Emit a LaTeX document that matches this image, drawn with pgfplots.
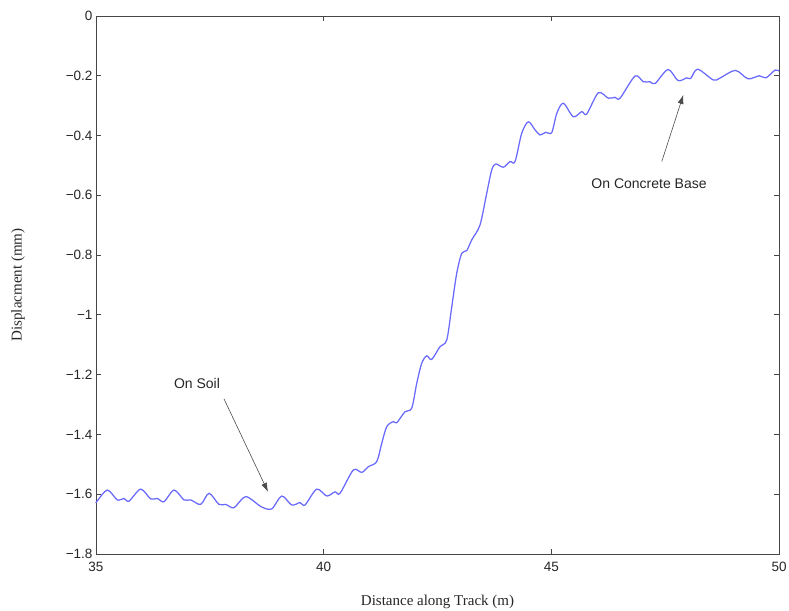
\documentclass[border=0pt]{standalone}
\usepackage{fontspec}
\setmainfont{Liberation Serif}
\newfontfamily\helv{Liberation Sans}
\usepackage{pgfplots}
\pgfplotsset{compat=1.18}
\usetikzlibrary{arrows.meta}

\definecolor{curve}{RGB}{105,105,252}
\definecolor{axgray}{RGB}{70,70,70}

\pgfplotstableread{
x y
35.000 -1.628
35.015 -1.625
35.248 -1.586
35.468 -1.619
35.615 -1.614
35.725 -1.623
35.982 -1.583
36.201 -1.616
36.346 -1.614
36.494 -1.625
36.713 -1.586
36.933 -1.619
37.080 -1.619
37.300 -1.634
37.482 -1.597
37.701 -1.634
37.849 -1.634
38.031 -1.645
38.288 -1.608
38.630 -1.642
38.859 -1.649
39.079 -1.606
39.298 -1.636
39.481 -1.628
39.590 -1.636
39.847 -1.583
40.067 -1.606
40.249 -1.592
40.359 -1.597
40.651 -1.519
40.836 -1.527
40.981 -1.508
41.165 -1.491
41.275 -1.430
41.385 -1.374
41.530 -1.357
41.604 -1.361
41.787 -1.324
41.934 -1.312
42.044 -1.229
42.153 -1.162
42.263 -1.137
42.373 -1.149
42.556 -1.106
42.703 -1.084
42.813 -0.973
42.922 -0.861
43.032 -0.794
43.142 -0.785
43.252 -0.749
43.434 -0.699
43.581 -0.593
43.691 -0.515
43.779 -0.495
43.946 -0.506
44.093 -0.487
44.203 -0.487
44.350 -0.392
44.495 -0.354
44.642 -0.381
44.752 -0.398
44.877 -0.389
45.009 -0.390
45.119 -0.326
45.264 -0.292
45.483 -0.337
45.668 -0.320
45.777 -0.328
46.032 -0.257
46.252 -0.275
46.399 -0.272
46.509 -0.275
46.838 -0.201
47.021 -0.220
47.168 -0.220
47.278 -0.226
47.563 -0.179
47.783 -0.216
47.974 -0.207
48.060 -0.209
48.213 -0.178
48.558 -0.214
48.700 -0.208
49.042 -0.182
49.317 -0.210
49.569 -0.200
49.713 -0.207
49.913 -0.181
50.000 -0.184
}\disp

\begin{document}
\begin{tikzpicture}
\useasboundingbox (-96pt,-56pt) rectangle (693pt,554pt);
\begin{axis}[
  width=683pt, height=538pt, scale only axis,
  at={(0,0)}, anchor=south west,
  xmin=35, xmax=50, ymin=-1.8, ymax=0,
  xtick={35,40,45,50},
  xticklabels={35,40,45,50},
  ytick={-1.8,-1.6,-1.4,-1.2,-1,-0.8,-0.6,-0.4,-0.2,0},
  yticklabels={−1.8,−1.6,−1.4,−1.2,−1,−0.8,−0.6,−0.4,−0.2,0},
  tick align=inside, major tick length=5pt,
  axis line style={axgray, line width=0.8pt},
  every tick/.style={axgray, line width=0.8pt},
  ticklabel style={font=\helv\fontsize{13.5}{15}\selectfont, text=black!85},
  xticklabel style={yshift=-5pt},
  xlabel={Distance along Track (m)},
  ylabel={Displacment (mm)},
  every axis x label/.style={at={(axis description cs:0.5,0)}, anchor=center, yshift=-48pt},
  every axis y label/.style={at={(axis description cs:0,0.5)}, anchor=center, rotate=90, yshift=78pt},
  label style={font=\fontsize{15}{17}\selectfont, text=black!85},
  clip=false,
]
\addplot[curve, line width=1.25pt, smooth, tension=0.5] table[x=x, y=y] {\disp};

\draw[-{Latex[length=9pt,width=6pt]}, black!70, line width=0.6pt]
  (axis cs:37.811,-1.281) -- (axis cs:38.778,-1.592);
\node[font=\helv\fontsize{14}{16}\selectfont, text=black!85] at (axis cs:37.218,-1.228) {On Soil};

\draw[-{Latex[length=9pt,width=6pt]}, black!70, line width=0.6pt]
  (axis cs:47.425,-0.487) -- (axis cs:47.899,-0.264);
\node[font=\helv\fontsize{14}{16}\selectfont, text=black!85] at (axis cs:47.146,-0.562) {On Concrete Base};
\end{axis}
\end{tikzpicture}
\end{document}
